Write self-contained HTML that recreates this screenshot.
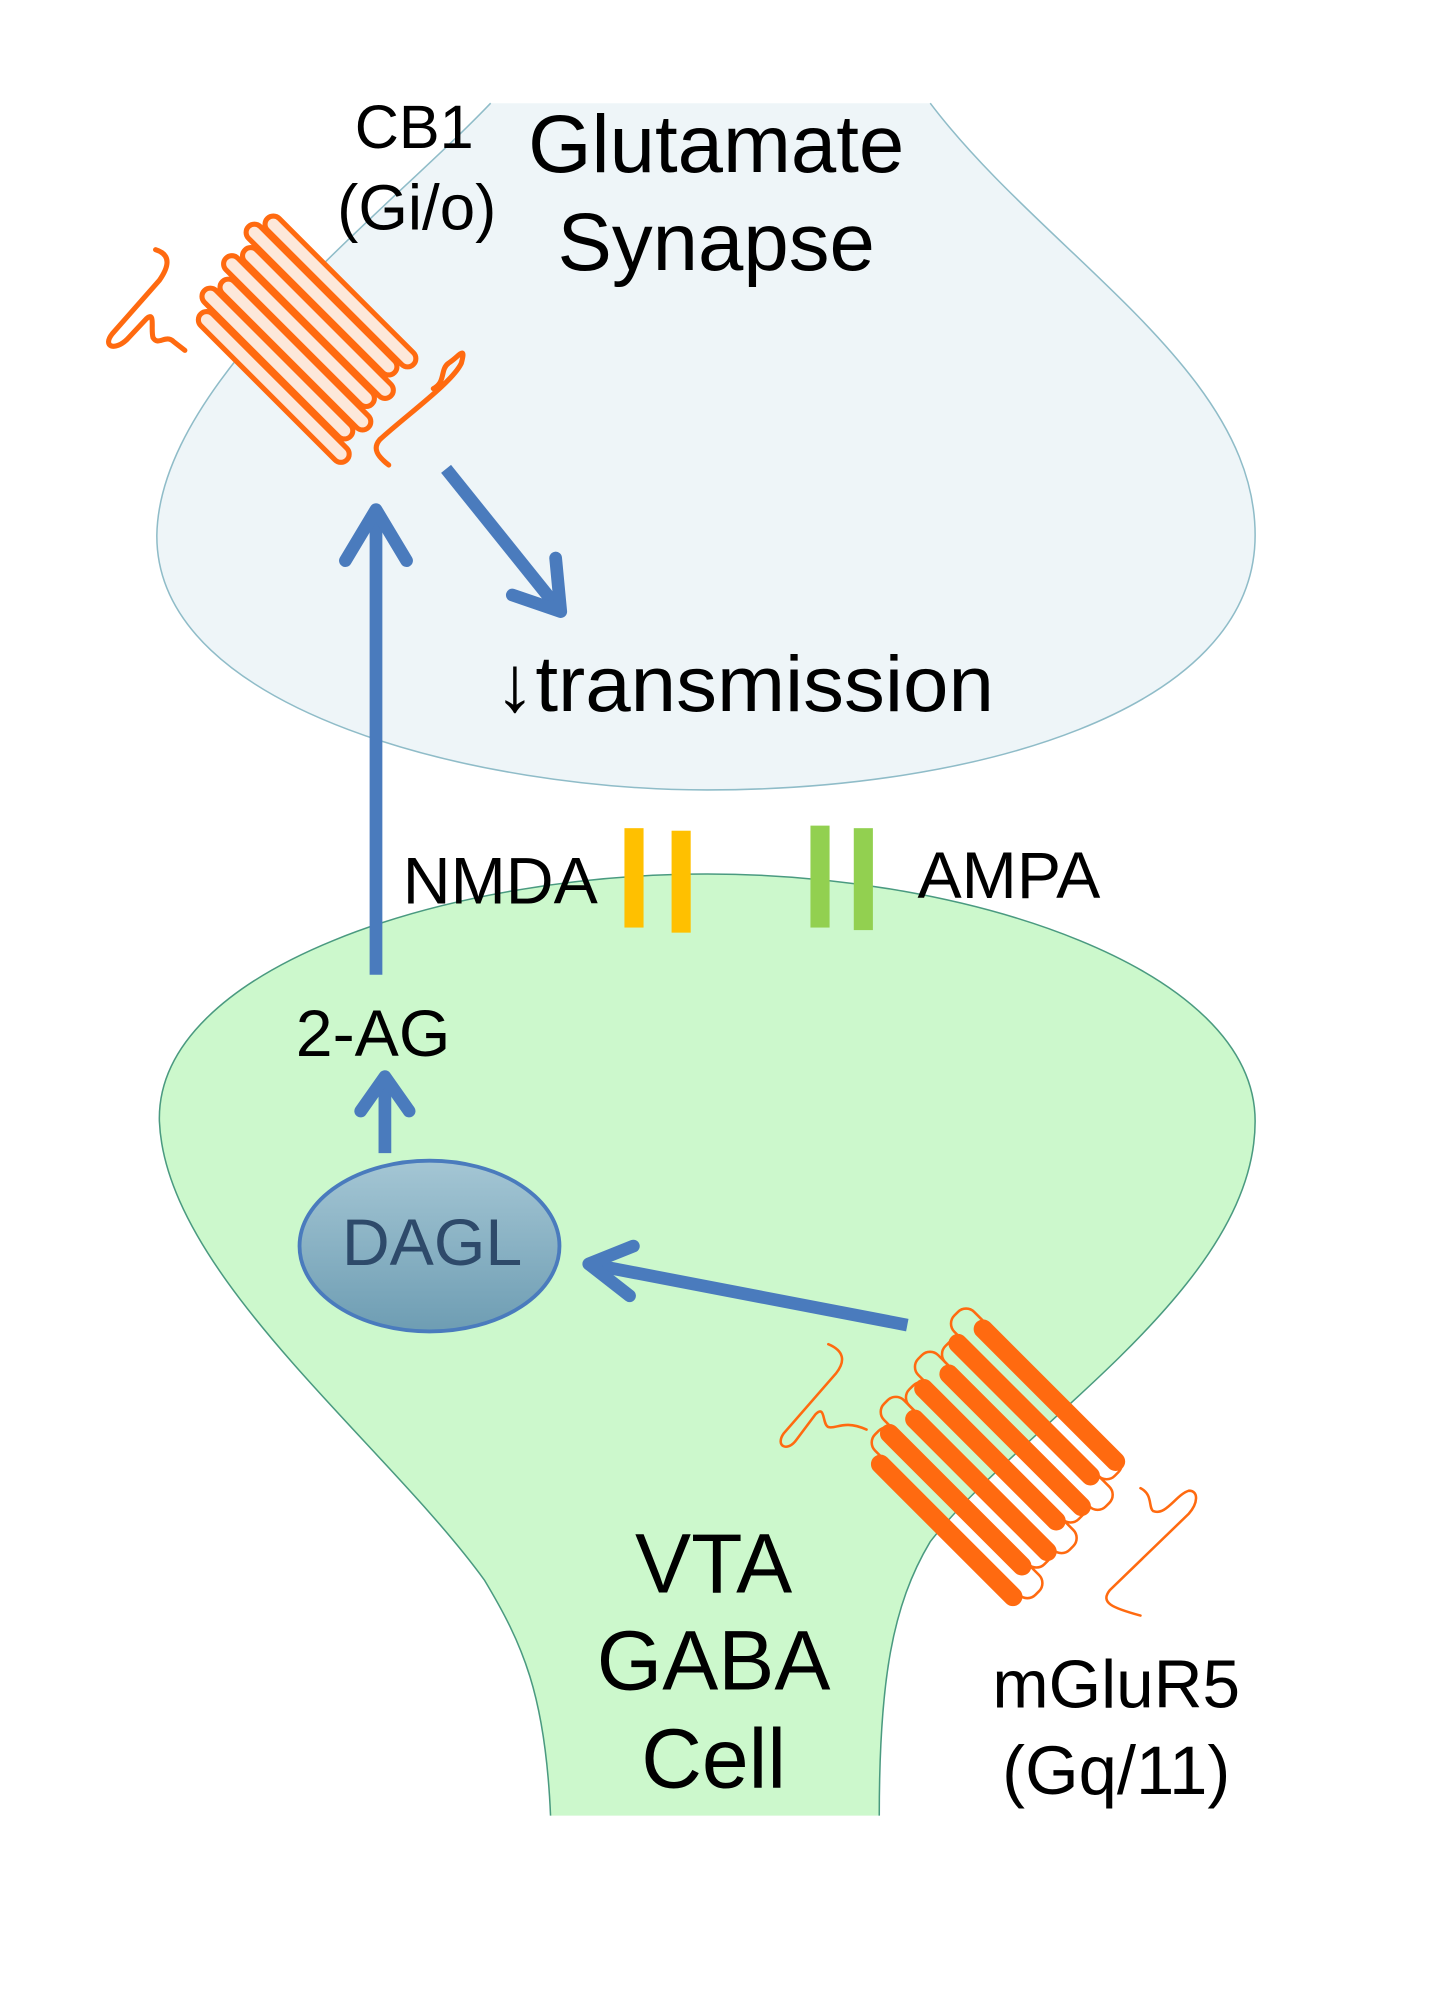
<!DOCTYPE html>
<html><head><meta charset="utf-8"><style>
html,body{margin:0;padding:0;background:#fff;}
svg{display:block;}
text{font-family:"Liberation Sans",Arial,sans-serif;}
</style></head><body>
<svg width="1440" height="2008" viewBox="0 0 1130 1576" xmlns="http://www.w3.org/2000/svg">
<defs>
<linearGradient id="dg" x1="0" y1="0" x2="0" y2="1">
<stop offset="0" stop-color="#a4c6d4"/><stop offset="1" stop-color="#6e9db3"/>
</linearGradient>
</defs>
<path d="M385,81 C300,170 125,300 123,420 C122,560 380,620 555,620 C760,620 985,560 985,420 C985,290 820,200 730,81 Z" fill="#eef5f8"/>
<path d="M385,81 C300,170 125,300 123,420 C122,560 380,620 555,620 C760,620 985,560 985,420 C985,290 820,200 730,81" fill="none" stroke="#8fbcc8" stroke-width="1.2"/>
<path d="M432,1425 C428,1330 410,1290 380,1240 C300,1130 130,1000 125,880 C122,760 350,686 555,686 C760,686 985,760 985,880 C985,1010 800,1120 730,1210 C700,1260 690,1320 690,1425 Z" fill="#ccf8cc"/>
<path d="M432,1425 C428,1330 410,1290 380,1240 C300,1130 130,1000 125,880 C122,760 350,686 555,686 C760,686 985,760 985,880 C985,1010 800,1120 730,1210 C700,1260 690,1320 690,1425" fill="none" stroke="#4a9a80" stroke-width="1.2"/>

<rect x="490" y="650" width="15" height="78" fill="#ffc000"/>
<rect x="527" y="652" width="15" height="80" fill="#ffc000"/>
<rect x="636" y="648" width="15" height="80" fill="#92d050"/>
<rect x="670" y="650" width="15" height="80" fill="#92d050"/>

<g stroke="#4a7bbd" stroke-width="10" fill="none" stroke-linecap="round" stroke-linejoin="round">
<line x1="295" y1="765" x2="295" y2="400" stroke-linecap="butt"/>
<polyline points="271,440 295,400 319,440"/>
<line x1="350" y1="368" x2="440" y2="480" stroke-linecap="butt"/>
<polyline points="402,467 440,480 436,438"/>
<line x1="712" y1="1040" x2="462" y2="992" stroke-linecap="butt"/>
<polyline points="494,1017 462,992 497,978"/>
<line x1="302" y1="905" x2="302" y2="845" stroke-linecap="butt"/>
<polyline points="283,872 302,845 321,872"/>
</g>

<ellipse cx="337" cy="978" rx="102" ry="67" fill="url(#dg)" stroke="#4a7bbd" stroke-width="3"/>
<text x="339" y="993" font-size="52" fill="#2e4a6a" text-anchor="middle">DAGL</text>

<g transform="translate(242,268) rotate(-45)" fill="#fde8da" stroke="#ff6a10" stroke-width="4">
<rect x="-51" y="-75" width="13" height="162" rx="6.5"/>
<rect x="-36" y="-86" width="13" height="162" rx="6.5"/>
<rect x="-21" y="-81" width="13" height="162" rx="6.5"/>
<rect x="-6" y="-92" width="13" height="162" rx="6.5"/>
<rect x="9" y="-86" width="13" height="162" rx="6.5"/>
<rect x="24" y="-97" width="13" height="162" rx="6.5"/>
<rect x="39" y="-91" width="13" height="162" rx="6.5"/>
</g>
<g fill="none" stroke="#ff6a10" stroke-width="4" stroke-linecap="round">
<path d="M122,196 C135,200 132,210 125,220 L88,262 C80,272 90,276 100,266 L115,250 C122,244 118,258 120,265 C124,272 130,262 136,268 L145,275"/>
<path d="M340,305 C350,300 345,290 352,285 C360,280 366,270 362,285 C355,300 320,325 298,345 C292,352 296,358 305,365"/>
</g>

<g transform="translate(785,1152) rotate(-45)">
<g fill="none" stroke="#ff6a10" stroke-width="2">
<rect x="-60" y="-88" width="22" height="178" rx="9"/>
<rect x="-38" y="-100" width="22" height="178" rx="9"/>
<rect x="-16" y="-94" width="22" height="178" rx="9"/>
<rect x="6" y="-106" width="22" height="178" rx="9"/>
<rect x="28" y="-98" width="22" height="178" rx="9"/>
<rect x="50" y="-110" width="22" height="178" rx="9"/>
</g>
<g fill="#ff6a10">
<rect x="-72" y="-76" width="15" height="162" rx="7.5"/>
<rect x="-50" y="-88" width="15" height="162" rx="7.5"/>
<rect x="-28" y="-82" width="15" height="162" rx="7.5"/>
<rect x="-6" y="-94" width="15" height="162" rx="7.5"/>
<rect x="16" y="-88" width="15" height="162" rx="7.5"/>
<rect x="38" y="-100" width="15" height="162" rx="7.5"/>
<rect x="60" y="-94" width="15" height="162" rx="7.5"/>
</g>
</g>
<g fill="none" stroke="#ff6a10" stroke-width="2" stroke-linecap="round">
<path d="M650,1055 C662,1060 664,1068 656,1078 L615,1125 C608,1135 618,1140 625,1130 L640,1110 C648,1102 645,1118 650,1120 C656,1122 662,1114 680,1122"/>
<path d="M895,1168 C905,1173 901,1183 905,1186 C915,1190 923,1173 933,1170 C941,1170 940,1180 933,1188 L871,1248 C863,1258 873,1262 895,1268"/>
</g>

<g fill="#000">
<text x="325" y="116" font-size="48" text-anchor="middle">CB1</text>
<text x="327" y="180" font-size="50" text-anchor="middle">(Gi/o)</text>
<text x="562" y="135" font-size="64" text-anchor="middle">Glutamate</text>
<text x="562" y="212" font-size="64" text-anchor="middle">Synapse</text>
<text x="388" y="558" font-size="62" textLength="392" lengthAdjust="spacingAndGlyphs">↓transmission</text>
<text x="316" y="709" font-size="52">NMDA</text>
<text x="720" y="705" font-size="52">AMPA</text>
<text x="232" y="829" font-size="52">2-AG</text>
<text x="560" y="1250" font-size="66" text-anchor="middle">VTA</text>
<text x="560" y="1326" font-size="66" text-anchor="middle">GABA</text>
<text x="560" y="1403" font-size="66" text-anchor="middle">Cell</text>
<text x="876" y="1340" font-size="53" text-anchor="middle">mGluR5</text>
<text x="876" y="1408" font-size="54" text-anchor="middle">(Gq/11)</text>
</g>
</svg>
</body></html>
